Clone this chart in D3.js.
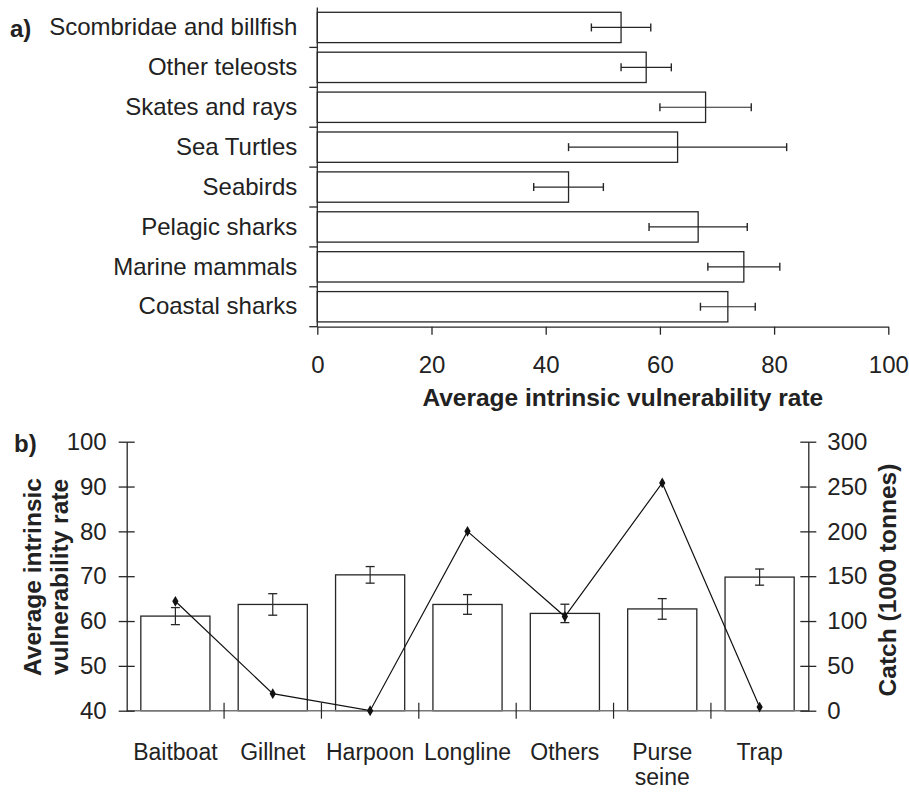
<!DOCTYPE html>
<html>
<head>
<meta charset="utf-8">
<script src="https://cdn.jsdelivr.net/npm/d3@7"></script>
<style>
  html, body { margin: 0; padding: 0; background: #fff; }
  svg { display: block; }
  text { font-family: "Liberation Sans", Arial, Helvetica, sans-serif; fill: #222; }
</style>
</head>
<body>
<svg id="chart" width="909" height="792"></svg>
<script>
// ---- Panel a data ----
const speciesGroups = ["Scombridae and billfish", "Other teleosts", "Skates and rays", "Sea Turtles",
                       "Seabirds", "Pelagic sharks", "Marine mammals", "Coastal sharks"];
const speciesVuln = [53.2, 57.6, 68.0, 63.1, 44.0, 66.7, 74.7, 71.9];
const speciesErr  = [5.2, 4.4, 8.0, 19.1, 6.1, 8.6, 6.3, 4.8];
const aTicks = [0, 20, 40, 60, 80, 100];

// ---- Panel b data ----
const gears = ["Baitboat", "Gillnet", "Harpoon", "Longline", "Others", "Purse seine", "Trap"];
const gearVuln  = [61.1, 63.7, 70.3, 63.7, 61.7, 62.7, 69.8];
const gearErr   = [1.9, 2.4, 1.85, 2.2, 2.05, 2.3, 1.8];
const gearCatch = [122, 19, 0, 200, 105, 254, 4];
const bLeftTicks  = [40, 50, 60, 70, 80, 90, 100];
const bRightTicks = [0, 50, 100, 150, 200, 250, 300];

const svg = d3.select("#chart");
const ink = "#262626";
const FS = 23;
const FSA = 24;
const FT = 24.5;

// ================= Panel a =================
const ax = d3.scaleLinear().domain([0, 100]).range([317.3, 888.3]);
const ay = d3.scaleBand().domain(speciesGroups).range([7.5, 326.7]).paddingInner(0.24).paddingOuter(0.12);
const ga = svg.append("g");

// bars
ga.selectAll("rect.bar").data(speciesGroups).join("rect")
  .attr("x", ax(0)).attr("y", d => ay(d))
  .attr("width", (d, i) => ax(speciesVuln[i]) - ax(0))
  .attr("height", ay.bandwidth())
  .attr("fill", "#fff").attr("stroke", ink).attr("stroke-width", 1.3);

// error bars
const aeb = ga.selectAll("g.eb").data(speciesGroups).join("g");
aeb.append("line")
  .attr("x1", (d, i) => ax(speciesVuln[i] - speciesErr[i]))
  .attr("x2", (d, i) => ax(speciesVuln[i] + speciesErr[i]))
  .attr("y1", d => ay(d) + ay.bandwidth() / 2).attr("y2", d => ay(d) + ay.bandwidth() / 2)
  .attr("stroke", ink).attr("stroke-width", 1.2);
[-1, 1].forEach(s => {
  aeb.append("line")
    .attr("x1", (d, i) => ax(speciesVuln[i] + s * speciesErr[i]))
    .attr("x2", (d, i) => ax(speciesVuln[i] + s * speciesErr[i]))
    .attr("y1", d => ay(d) + ay.bandwidth() / 2 - 4).attr("y2", d => ay(d) + ay.bandwidth() / 2 + 4)
    .attr("stroke", ink).attr("stroke-width", 1.4);
});

// y axis (category labels)
const ayAxis = ga.append("g").attr("transform", `translate(${ax(0)},0)`)
  .call(d3.axisLeft(ay).tickSize(0).tickPadding(20));
ayAxis.select(".domain").remove();
ayAxis.selectAll("text").style("font-size", FSA + "px").attr("fill", "#222");
ga.append("line").attr("x1", ax(0)).attr("x2", ax(0)).attr("y1", ay.range()[0]).attr("y2", ay.range()[1])
  .attr("stroke", ink).attr("stroke-width", 1.3);
ga.selectAll("line.bt").data(d3.range(1, speciesGroups.length + 1)).join("line")
  .attr("x1", ax(0) - 8).attr("x2", ax(0))
  .attr("y1", i => ay.range()[0] + i * ay.step()).attr("y2", i => ay.range()[0] + i * ay.step())
  .attr("stroke", ink).attr("stroke-width", 1.3);

// x axis
const axAxis = ga.append("g").attr("transform", `translate(0,${ay.range()[1]})`)
  .call(d3.axisBottom(ax).tickValues(aTicks).tickSize(8).tickPadding(21).tickSizeOuter(0));
axAxis.selectAll("path, line").attr("stroke", ink).attr("stroke-width", 1.3);
axAxis.selectAll("text").style("font-size", FSA + "px").attr("fill", "#222");

ga.append("text").attr("x", (ax(0) + ax(100)) / 2 + 20).attr("y", 406)
  .attr("text-anchor", "middle").style("font-size", FT + "px").style("font-weight", "bold")
  .text("Average intrinsic vulnerability rate");
ga.append("text").attr("x", 10).attr("y", 37).style("font-size", "24px").style("font-weight", "bold").text("a)");

// ================= Panel b =================
const bx = d3.scaleBand().domain(gears).range([126.7, 808.3]).paddingInner(0.29).paddingOuter(0.145);
const byL = d3.scaleLinear().domain([40, 100]).range([710.7, 441.7]);
const byR = d3.scaleLinear().domain([0, 300]).range([710.7, 441.7]);
const gb = svg.append("g");

// bars
gb.selectAll("rect.bar").data(gears).join("rect")
  .attr("x", d => bx(d)).attr("width", bx.bandwidth())
  .attr("y", (d, i) => byL(gearVuln[i]))
  .attr("height", (d, i) => byL(40) - byL(gearVuln[i]))
  .attr("fill", "#fff").attr("stroke", ink).attr("stroke-width", 1.3);

// error bars
const beb = gb.selectAll("g.eb").data(gears).join("g");
beb.append("line")
  .attr("x1", d => bx(d) + bx.bandwidth() / 2).attr("x2", d => bx(d) + bx.bandwidth() / 2)
  .attr("y1", (d, i) => byL(gearVuln[i] - gearErr[i])).attr("y2", (d, i) => byL(gearVuln[i] + gearErr[i]))
  .attr("stroke", ink).attr("stroke-width", 1.2);
[-1, 1].forEach(s => {
  beb.append("line")
    .attr("x1", d => bx(d) + bx.bandwidth() / 2 - 4.5).attr("x2", d => bx(d) + bx.bandwidth() / 2 + 4.5)
    .attr("y1", (d, i) => byL(gearVuln[i] + s * gearErr[i])).attr("y2", (d, i) => byL(gearVuln[i] + s * gearErr[i]))
    .attr("stroke", ink).attr("stroke-width", 1.3);
});

// x axis
gb.append("line").attr("x1", bx.range()[0]).attr("x2", bx.range()[1]).attr("y1", byL(40)).attr("y2", byL(40))
  .attr("stroke", "#777").attr("stroke-width", 1.5);
gb.selectAll("line.xt").data(d3.range(1, gears.length)).join("line")
  .attr("x1", i => bx.range()[0] + i * bx.step()).attr("x2", i => bx.range()[0] + i * bx.step())
  .attr("y1", byL(40) - 8).attr("y2", byL(40) + 8)
  .attr("stroke", ink).attr("stroke-width", 1.2);
const xl = gb.selectAll("text.xl").data(gears).join("text")
  .attr("x", d => bx(d) + bx.bandwidth() / 2).attr("y", 760)
  .attr("text-anchor", "middle").style("font-size", FS + "px");
xl.each(function (d) {
  const words = d === "Purse seine" ? ["Purse", "seine"] : [d];
  const t = d3.select(this);
  words.forEach((w, k) => t.append("tspan").attr("x", t.attr("x")).attr("dy", k ? 25 : 0).text(w));
});

// left axis
const lAxis = gb.append("g").attr("transform", `translate(${bx.range()[0]},0)`)
  .call(d3.axisLeft(byL).tickValues(bLeftTicks).tickSize(8).tickPadding(12).tickSizeOuter(0));
lAxis.selectAll("line").attr("x1", 8);
lAxis.selectAll("path, line").attr("stroke", ink).attr("stroke-width", 1.3);
lAxis.selectAll("text").style("font-size", FSA + "px").attr("fill", "#222");

// right axis
const rAxis = gb.append("g").attr("transform", `translate(${bx.range()[1]},0)`)
  .call(d3.axisRight(byR).tickValues(bRightTicks).tickSize(8).tickPadding(11).tickSizeOuter(0));
rAxis.selectAll("line").attr("x1", -8);
rAxis.selectAll("path, line").attr("stroke", ink).attr("stroke-width", 1.3);
rAxis.selectAll("text").style("font-size", FSA + "px").attr("fill", "#222");

// catch line
const pts = gears.map((g, i) => [bx(g) + bx.bandwidth() / 2, byR(gearCatch[i])]);
gb.append("path").attr("d", d3.line()(pts)).attr("fill", "none").attr("stroke", "#111").attr("stroke-width", 1.2);
gb.selectAll("path.mk").data(pts).join("path")
  .attr("d", d3.symbol(d3.symbolDiamond, 34)())
  .attr("transform", d => `translate(${d[0]},${d[1]})`)
  .attr("fill", "#111");

// axis titles
gb.append("text").attr("transform", "translate(41,577) rotate(-90)")
  .attr("text-anchor", "middle").style("font-size", FT + "px").style("font-weight", "bold")
  .selectAll("tspan").data(["Average intrinsic", "vulnerability rate"]).join("tspan")
  .attr("x", 0).attr("dy", (d, i) => i ? 27 : 0).text(d => d);
gb.append("text").attr("transform", "translate(896,580) rotate(-90)")
  .attr("text-anchor", "middle").style("font-size", FT + "px").style("font-weight", "bold")
  .text("Catch (1000 tonnes)");
gb.append("text").attr("x", 14).attr("y", 452).style("font-size", "24px").style("font-weight", "bold").text("b)");
</script>
</body>
</html>
